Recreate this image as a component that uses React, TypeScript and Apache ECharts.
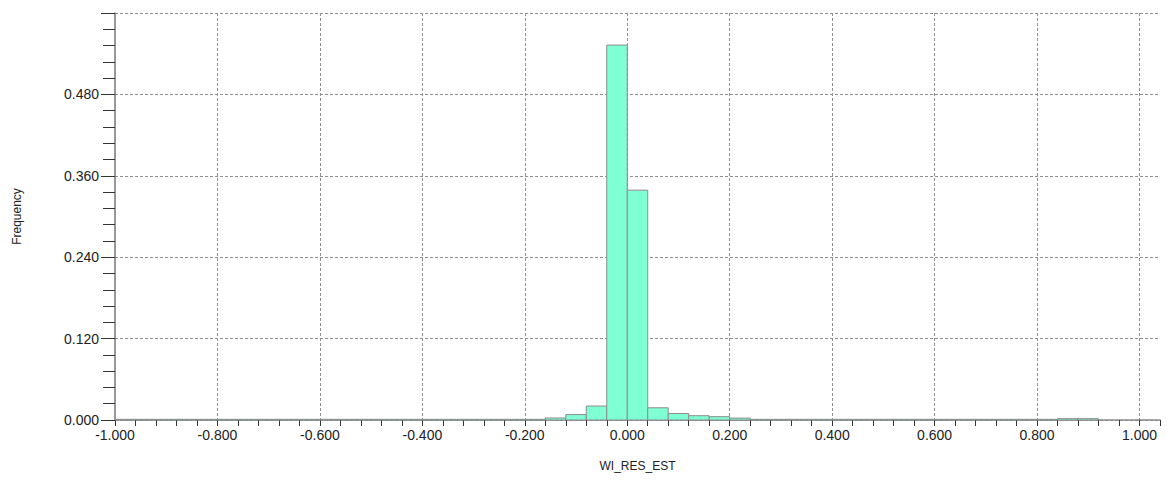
import React, { useEffect, useRef } from "react";
import * as echarts from "echarts";

// Histogram of WI_RES_EST: bins of width 0.04 starting at -1.000
const BIN_START = -1.0;
const BIN_WIDTH = 0.04;
const frequencies: number[] = [
  // -1.00 .. -0.84
  0.001, 0.001, 0.001, 0.001, 0.001,
  // -0.80 .. -0.64
  0.001, 0.001, 0.001, 0.001, 0.001,
  // -0.60 .. -0.44
  0.001, 0.001, 0.001, 0.001, 0.001,
  // -0.40 .. -0.24
  0.001, 0.001, 0.001, 0.001, 0.001,
  // -0.20, -0.16, -0.12, -0.08, -0.04
  0.001, 0.003, 0.008, 0.0206, 0.5527,
  // 0.00, 0.04, 0.08, 0.12, 0.16
  0.3388, 0.018, 0.0096, 0.0063, 0.0049,
  // 0.20 .. 0.36
  0.0028, 0.001, 0.001, 0.001, 0.001,
  // 0.40 .. 0.56
  0.001, 0.001, 0.001, 0.001, 0.001,
  // 0.60 .. 0.76
  0.001, 0.001, 0.001, 0.001, 0.001,
  // 0.80 .. 0.96
  0.001, 0.002, 0.002, 0, 0,
  // 1.00
  0,
];

const X_MIN = -1.0;
const X_MAX = 1.04;
const X_LABEL_STEP = 0.2;
const X_TICK_STEP = 0.04;
const Y_MIN = 0;
const Y_MAX = 0.6;
const Y_STEP = 0.12;

const X_NAME = "WI_RES_EST";
const Y_NAME = "Frequency";

export default function App() {
  const ref = useRef<HTMLDivElement>(null);
  useEffect(() => {
    if (!ref.current) return;
    const chart = echarts.init(ref.current, null, { renderer: "svg" });
    const data = frequencies.map((f, i) => {
      const x0 = +(BIN_START + i * BIN_WIDTH).toFixed(4);
      const x1 = +(x0 + BIN_WIDTH).toFixed(4);
      return [x0, x1, f];
    });
    const labelStyle = {
      color: "#222",
      fontFamily: "Liberation Sans, Arial, sans-serif",
      fontSize: 14,
    };
    const gridLine = {
      show: true,
      lineStyle: { color: "#8f8f8f", type: [3, 2] as any, width: 1 },
    };
    chart.setOption({
      animation: false,
      backgroundColor: "#fff",
      grid: { left: 115, right: 7, top: 13, bottom: 63, containLabel: false },
      xAxis: [
        {
          type: "value",
          position: "bottom",
          offset: 0,
          min: X_MIN,
          max: X_MAX,
          interval: X_LABEL_STEP,
          name: X_NAME,
          nameLocation: "middle",
          nameGap: 40,
          nameTextStyle: { color: "#222", fontFamily: "Liberation Sans, Arial, sans-serif", fontSize: 12 },
          axisLine: { show: true, onZero: false, lineStyle: { color: "#8a8a8a", width: 1.5 } },
          axisTick: { show: true, length: 6, lineStyle: { color: "#333" } },
          axisLabel: {
            ...labelStyle,
            margin: 8,
            showMaxLabel: false,
            formatter: (v: number) => v.toFixed(3),
          },
          splitLine: { ...gridLine, showMinLine: false, showMaxLine: false },
        },
        {
          type: "value",
          position: "bottom",
          offset: 0,
          min: X_MIN,
          max: X_MAX,
          interval: X_TICK_STEP,
          axisLine: { show: false, onZero: false },
          axisTick: { show: true, length: 6, lineStyle: { color: "#333" } },
          axisLabel: { show: false },
          splitLine: { show: false },
        },
      ],
      yAxis: {
        type: "value",
        min: Y_MIN,
        max: Y_MAX,
        interval: Y_STEP,
        name: Y_NAME,
        nameLocation: "middle",
        nameRotate: 90,
        nameGap: 92,
        nameTextStyle: { color: "#222", fontFamily: "Liberation Sans, Arial, sans-serif", fontSize: 12 },
        axisLine: { show: true, onZero: false, lineStyle: { color: "#777", width: 1.5 } },
        axisTick: { show: true, length: 14, lineStyle: { color: "#333" } },
        minorTick: { show: true, splitNumber: 5, length: 12, lineStyle: { color: "#333" } },
        axisLabel: {
          ...labelStyle,
          margin: 16,
          showMaxLabel: false,
          formatter: (v: number) => v.toFixed(3),
        },
        splitLine: gridLine,
      },
      series: [
        {
          type: "custom",
          xAxisIndex: 0,
          yAxisIndex: 0,
          data,
          encode: { x: [0, 1], y: 2 },
          renderItem: (params: any, api: any) => {
            const x0 = api.value(0);
            const x1 = api.value(1);
            const y = api.value(2);
            if (!y) return null;
            const p0 = api.coord([x0, y]);
            const p1 = api.coord([x1, 0]);
            return {
              type: "rect",
              shape: { x: p0[0], y: p0[1], width: p1[0] - p0[0], height: p1[1] - p0[1] },
              style: { fill: "#7FFFD4", stroke: "#8c8c8c", lineWidth: 1 },
            };
          },
        },
      ],
    });
    return () => chart.dispose();
  }, []);
  return (
    <div
      ref={ref}
      style={{ position: "absolute", left: 0, top: 0, width: 1167, height: 483 }}
    />
  );
}
